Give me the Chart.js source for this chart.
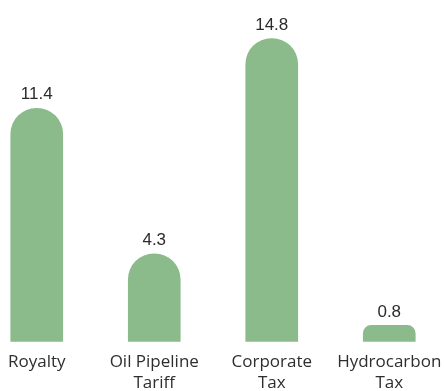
<!DOCTYPE html>
<html>
<head>
<meta charset="utf-8">
<script src="https://cdn.jsdelivr.net/npm/chart.js@4/dist/chart.umd.min.js"></script>
<style>
  html, body { margin: 0; padding: 0; background: #fff; overflow: hidden; }
  #wrap { position: absolute; left: -22px; top: 0; width: 470px; height: 398px; }
</style>
</head>
<body>
<div id="wrap"><canvas id="revenueChart"></canvas></div>
<script>
(() => {
    "use strict";

    const categories = [
        ["Royalty"],
        ["Oil Pipeline", "Tariff"],
        ["Corporate", "Tax"],
        ["Hydrocarbon", "Tax"]
    ];
    const values = [11.4, 4.3, 14.8, 0.8];
    const valueLabels = ["11.4", "4.3", "14.8", "0.8"];

    // soft shading across each bar, darker at the sides
    const barFill = (context) => {
        const el = context.element;
        const c = context.chart.ctx;
        if (!el || el.x === undefined || !el.width) return "#8bbb8a";
        const x0 = el.x - el.width / 2;
        const g = c.createLinearGradient(x0, 0, x0 + el.width, 0);
        g.addColorStop(0, "#7eac7f");
        g.addColorStop(0.25, "#8aba89");
        g.addColorStop(0.5, "#8fc08d");
        g.addColorStop(0.75, "#8aba89");
        g.addColorStop(1, "#7eac7f");
        return g;
    };

    // value printed above each bar
    const valueText = {
        id: "valueText",
        afterDatasetsDraw(chart) {
            const c = chart.ctx;
            const meta = chart.getDatasetMeta(0);
            c.save();
            c.font = "17px 'Liberation Sans', Arial, sans-serif";
            c.fillStyle = "#2b2b2b";
            c.textAlign = "center";
            c.textBaseline = "bottom";
            meta.data.forEach((bar, i) => {
                c.fillText(valueLabels[i], bar.x, bar.y - 5);
            });
            c.restore();
        }
    };

    const ctx = document.getElementById("revenueChart").getContext("2d");
    // eslint-disable-next-line no-unused-vars
    const revenueChart = new Chart(ctx, {
        type: "bar",
        data: {
            labels: categories,
            datasets: [{
                data: values,
                backgroundColor: barFill,
                barThickness: 52,
                borderSkipped: "bottom",
                borderRadius: { topLeft: 26, topRight: 26 }
            }]
        },
        options: {
            responsive: true,
            maintainAspectRatio: false,
            animation: false,
            layout: { padding: { top: 14, left: 0, right: 0, bottom: 2 } },
            plugins: {
                legend: { display: false },
                tooltip: { enabled: false }
            },
            scales: {
                x: {
                    grid: { display: false },
                    border: { display: false },
                    ticks: {
                        color: "#2e2e2e",
                        padding: 2,
                        font: { family: "'Open Sans', Lato, sans-serif", size: 17, lineHeight: 1.24 }
                    }
                },
                y: {
                    display: false,
                    min: 0,
                    max: 16
                }
            }
        },
        plugins: [valueText]
    });
})();
</script>
</body>
</html>
